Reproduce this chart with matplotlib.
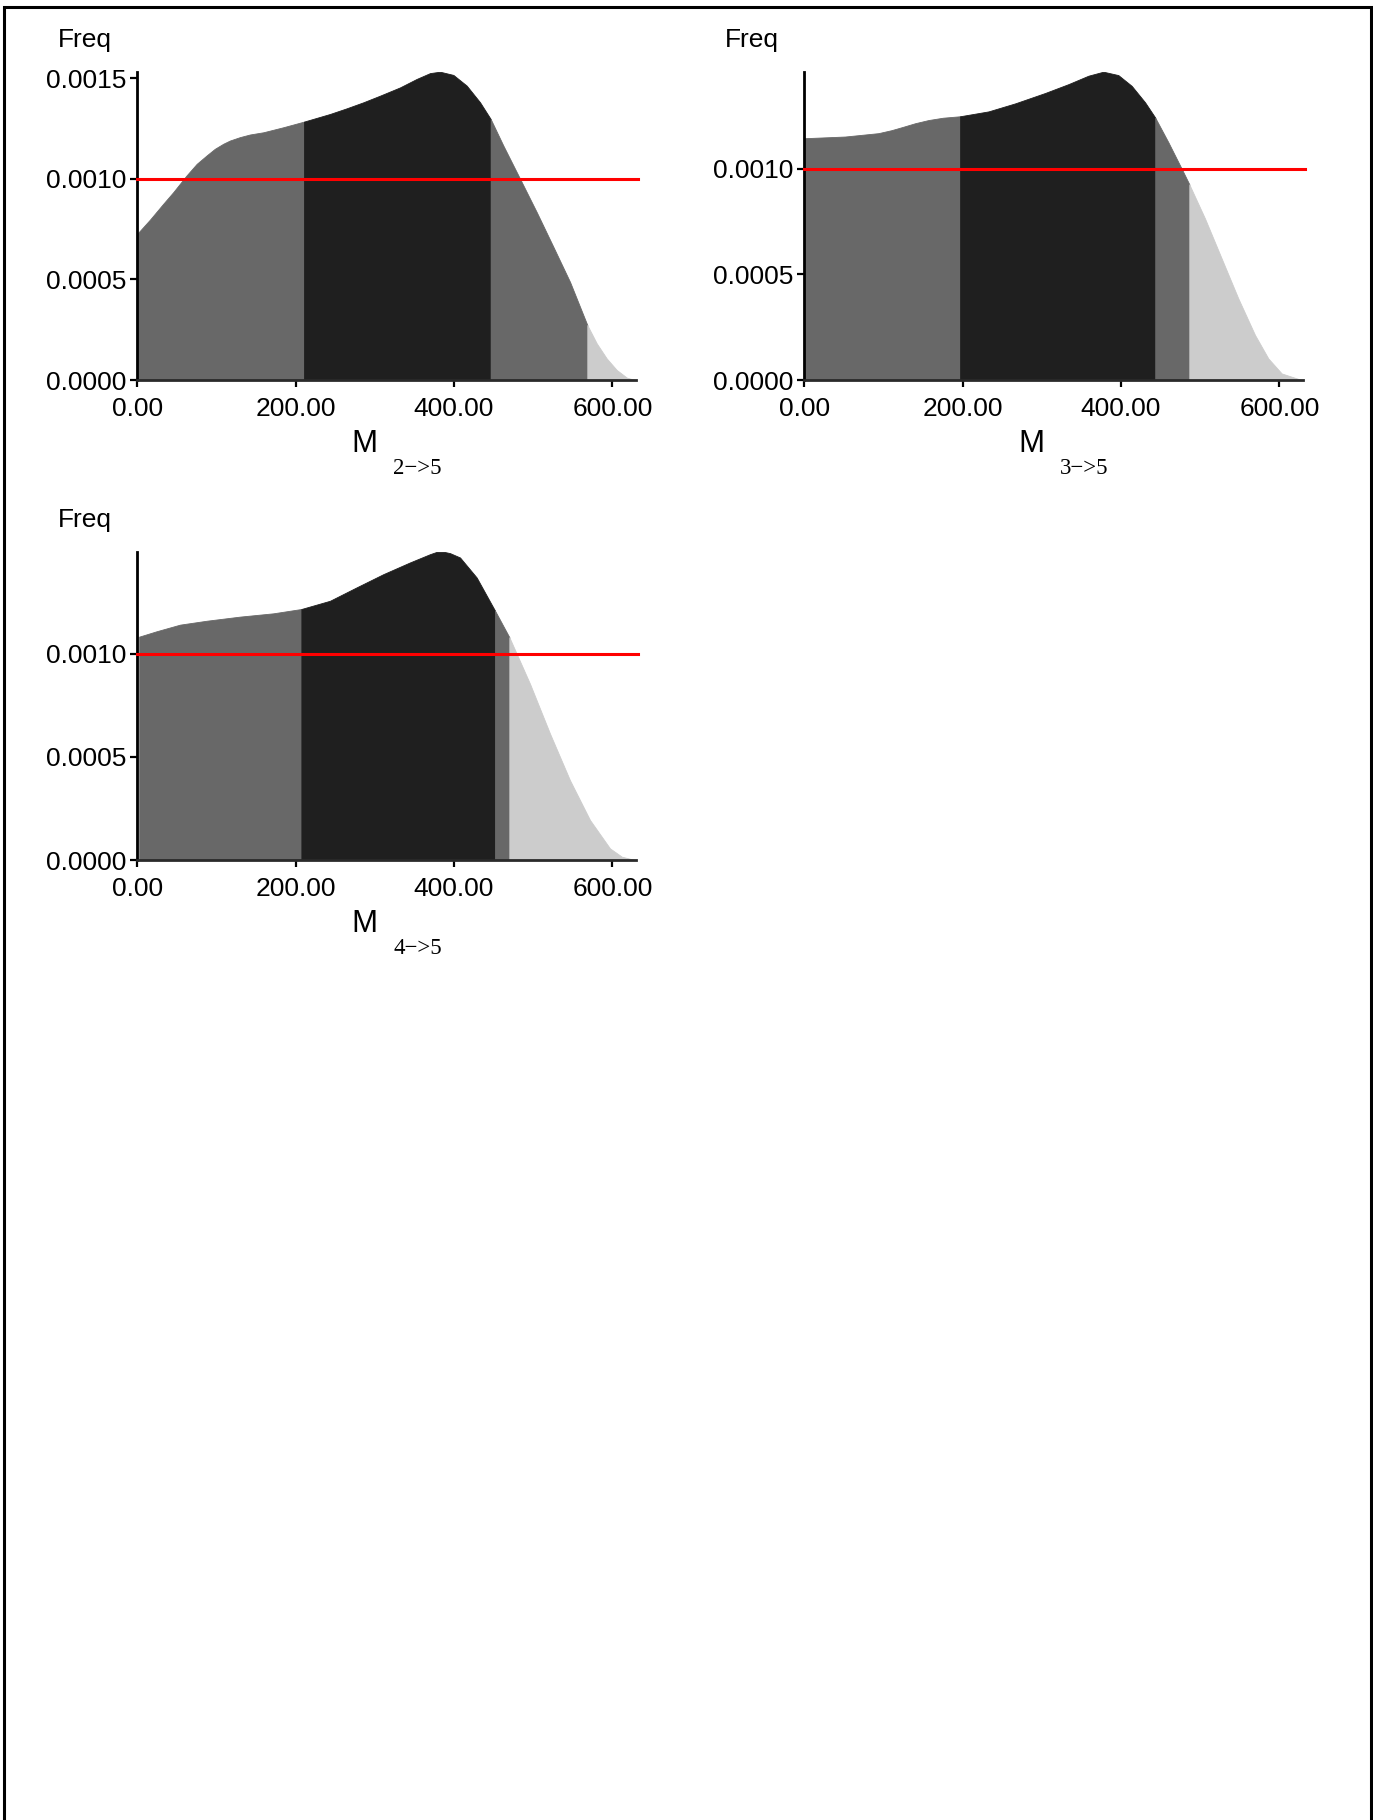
import numpy as np
import matplotlib
matplotlib.use("Agg")
import matplotlib.pyplot as plt
from matplotlib.patches import Rectangle
from matplotlib.ticker import MultipleLocator, FormatStrFormatter

plt.rcParams['font.family'] = ['Liberation Sans', 'DejaVu Sans']

# density curves (x, freq in units of 1e-3)
m25_x = [0, 16, 32.8, 45.5, 62.3, 75, 87.6, 98, 108.6, 117, 129.7, 142.3, 159.2, 184.4,
         210.5, 243.4, 264.4, 285.5, 306.6, 331.8, 352.8, 369.7, 382.3, 399.2, 416,
         432.9, 446.3, 462.3, 483.4, 504.5, 525.6, 546.6, 568.4, 580.3, 592.9, 605.5,
         618.2, 628.6]
m25_y = [0.727, 0.797, 0.876, 0.934, 1.017, 1.074, 1.116, 1.149, 1.174, 1.190, 1.207, 1.220,
         1.231, 1.256, 1.284, 1.322, 1.350, 1.380, 1.413, 1.454, 1.496, 1.525, 1.532, 1.516,
         1.463, 1.380, 1.297, 1.165, 1.000, 0.834, 0.661, 0.487, 0.273, 0.182, 0.107, 0.050,
         0.012, 0.0]
m25_cuts = [210.5, 446.3, 568.4]
m25_shades = ['mid', 'dark', 'mid', 'light']

m35_x = [0, 51.4, 93.6, 110, 123, 140, 156.8, 175, 196.8, 232.6, 266.3, 304, 333.5, 358.8,
         377.7, 396.6, 413.5, 430.4, 443, 459.8, 476.7, 486, 506.2, 527.2, 548.2, 569.3,
         586.1, 603, 628.3]
m35_y = [1.145, 1.153, 1.169, 1.183, 1.197, 1.216, 1.231, 1.242, 1.249, 1.272, 1.310, 1.359,
         1.401, 1.441, 1.460, 1.444, 1.393, 1.315, 1.244, 1.126, 1.000, 0.929, 0.764, 0.575,
         0.386, 0.213, 0.102, 0.031, 0.0]
m35_cuts = [196.8, 443.3, 486.3]
m35_shades = ['mid', 'dark', 'mid', 'light']

m45_x = [0, 24.4, 53.9, 87.6, 129.7, 171.8, 207.2, 243.4, 277, 310.7, 344.4, 369.7, 378,
         386.5, 395, 407.6, 428.6, 451.8, 469.9, 496, 521.3, 546.5, 571.8, 597, 612, 628.6]
m45_y = [1.081, 1.110, 1.142, 1.161, 1.181, 1.197, 1.218, 1.258, 1.323, 1.387, 1.444, 1.484,
         1.495, 1.496, 1.489, 1.468, 1.371, 1.210, 1.081, 0.855, 0.613, 0.387, 0.194, 0.0565,
         0.016, 0.0]
m45_cuts = [2.5, 207.2, 451.8, 469.9]
m45_shades = ['light', 'mid', 'dark', 'mid', 'light']

sub_labels = ['2\u2212>5', '3\u2212>5', '4\u2212>5']
ref_level = 0.001
x_ticks = [0, 200, 400, 600]

shade_colors = {'light': '#cccccc', 'mid': '#686868', 'dark': '#1f1f1f'}

W, H = 1373, 1820
fig = plt.figure(figsize=(W / 100, H / 100), dpi=100)

# axes boxes in pixels: left, bottom(from top)
boxes = [(137.3, 380), (804.3, 380), (137.3, 860)]
aw, ah = 498.8, 308.3

panels = [(m25_x, m25_y, m25_cuts, m25_shades),
          (m35_x, m35_y, m35_cuts, m35_shades),
          (m45_x, m45_y, m45_cuts, m45_shades)]

for (px, py, cuts, shades), (l, b), sub in zip(panels, boxes, sub_labels):
    ax = fig.add_axes([l / W, (H - b) / H, aw / W, ah / H])
    xs = np.array(px, dtype=float)
    ys = np.array(py) * 1e-3
    edges = [xs[0]] + list(cuts) + [xs[-1]]
    for a, c, shade in zip(edges[:-1], edges[1:], shades):
        inside = (xs > a) & (xs < c)
        sx = np.concatenate([[a], xs[inside], [c]])
        sy = np.interp(sx, xs, ys)
        ax.fill_between(sx, 0, sy, color=shade_colors[shade], lw=0.6,
                        edgecolor=shade_colors[shade])

    ax.axhline(ref_level, xmin=0, xmax=1.003, color='#ff0000', lw=2.2, clip_on=False, zorder=5)

    ax.set_xlim(0, 630)
    ax.set_ylim(0, ys.max())
    ax.set_xticks(x_ticks)
    ax.xaxis.set_major_formatter(FormatStrFormatter('%.2f'))
    ax.yaxis.set_major_locator(MultipleLocator(0.0005))
    ax.yaxis.set_major_formatter(FormatStrFormatter('%.4f'))
    for s in ['top', 'right']:
        ax.spines[s].set_visible(False)
    ax.spines['left'].set_linewidth(2.0)
    ax.spines['bottom'].set_linewidth(2.0)
    ax.spines['bottom'].set_color('#2a2a2a')
    ax.tick_params(axis='both', direction='out', length=5, width=1.6, labelsize=19,
                   colors='black')
    ax.tick_params(axis='x', pad=7)
    ax.tick_params(axis='y', pad=3)

    ax.annotate('Freq', xy=(0, 1), xycoords='axes fraction', xytext=(-52, 25),
                textcoords='offset pixels', ha='center', va='baseline', fontsize=19)
    ax.annotate('M', xy=(0, 0), xycoords='axes fraction', xytext=(214, -72),
                textcoords='offset pixels', ha='left', va='baseline', fontsize=22.5)
    ax.annotate(sub, xy=(0, 0), xycoords='axes fraction', xytext=(256, -94),
                textcoords='offset pixels', ha='left', va='baseline', fontsize=16.5,
                family=['Liberation Serif', 'DejaVu Serif'])

# outer frame
fig.add_artist(Rectangle((4.2 / W, -6 / H), (1370.5 - 4.2) / W, (H - 6.5 + 6) / H,
                         transform=fig.transFigure, fill=False, ec='black', lw=2.2,
                         clip_on=False))

fig.savefig('out.png', dpi=100)
